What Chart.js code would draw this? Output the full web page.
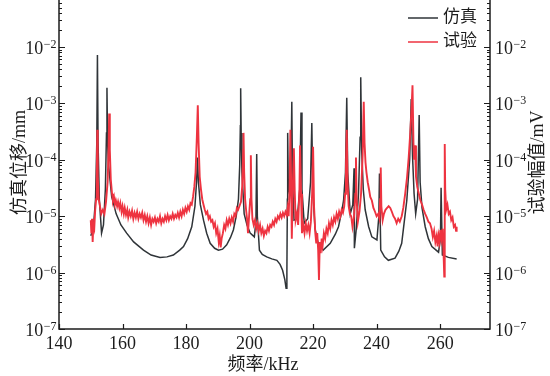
<!DOCTYPE html>
<html>
<head>
<meta charset="utf-8">
<script src="https://cdn.jsdelivr.net/npm/chart.js@4.4.1/dist/chart.umd.min.js"></script>
<style>
  html, body { margin: 0; padding: 0; background: #fff; }
  #wrap { width: 550px; height: 376px; }
</style>
</head>
<body>
<div id="wrap"><canvas id="grafico" width="550" height="376"></canvas></div>
<script>
// 仿真 (simulation) curve, frequency in kHz / displacement in mm
const simFreq = [
  150.0, 150.8, 151.5, 151.9, 152.1, 152.3, 152.7, 153.4, 154.0, 154.6,
  154.95, 155.1, 155.3, 155.6, 156.6, 158.0, 159.5, 161.3, 163.5, 166.6,
  169.0, 171.8, 174.0, 176.0, 178.0, 179.2, 180.5, 181.8, 182.8, 183.3,
  183.6, 183.9, 184.5, 185.5, 186.5, 187.6, 189.0, 190.2, 191.5, 192.8,
  194.0, 194.9, 195.8, 196.5, 196.9, 197.1, 197.2, 197.35, 197.6, 198.3,
  199.2, 200.2, 201.5, 202.0, 202.25, 202.45, 203.1, 204.0, 205.4, 207.0,
  208.6, 209.6, 210.4, 211.1, 211.5, 211.75, 211.9, 212.0, 212.2, 212.6,
  213.0, 213.3, 213.5, 214.0, 215.0, 215.8, 216.2, 216.5, 217.2, 218.3,
  219.2, 219.6, 219.9, 220.6, 221.5, 223.2, 225.4, 227.0, 228.0, 229.0,
  229.6, 230.2, 230.6, 230.9, 231.7, 232.5, 232.9, 233.0, 233.6, 234.3,
  234.8, 235.0, 235.3, 235.8, 236.4, 237.5, 238.5, 240.1, 240.7, 240.9,
  241.3, 242.5, 243.7, 245.8, 247.0, 247.9, 249.0, 249.5, 250.4, 250.9,
  251.3, 251.8, 252.3, 252.9, 253.4, 253.7, 254.3, 255.3, 256.3, 257.4,
  259.5, 260.1, 260.3, 260.7, 262.6, 265.2
];
const simAmp = [
  4.5e-6, 6e-6, 2e-5, 2e-4, 7.2e-3, 2e-4, 2e-5, 5e-6, 7e-6, 3e-5,
  3e-4, 1.9e-3, 2e-4, 8e-5, 2.2e-5, 1.1e-5, 7e-6, 5e-6, 3.5e-6, 2.5e-6,
  2.05e-6, 1.86e-6, 1.9e-6, 2.05e-6, 2.5e-6, 2.9e-6, 4e-6, 6.5e-6, 1.5e-5, 4e-5,
  1.1e-4, 4e-5, 1.6e-5, 8.5e-6, 5e-6, 3.3e-6, 2.7e-6, 2.5e-6, 2.6e-6, 3.1e-6,
  4.2e-6, 5.7e-6, 1e-5, 2e-5, 8e-5, 4e-4, 1.85e-3, 3e-4, 6e-5, 1.1e-5,
  7e-6, 5e-6, 4.3e-6, 8e-6, 1.26e-4, 1e-5, 2.5e-6, 2.1e-6, 1.9e-6, 1.75e-6,
  1.65e-6, 1.4e-6, 1.1e-6, 7.5e-7, 5.3e-7, 1e-6, 2e-5, 3e-4, 3.4e-5, 2.5e-5,
  6e-5, 1.07e-3, 5e-5, 8.5e-6, 9e-6, 3e-5, 6.9e-4, 3e-5, 7.5e-6, 9e-6,
  4e-5, 4.5e-4, 3e-5, 6e-6, 3.5e-6, 2.5e-6, 3.3e-6, 4.8e-6, 6.5e-6, 1.2e-5,
  1.9e-5, 6e-5, 1.26e-3, 6e-5, 1.1e-5, 1.6e-5, 7.1e-5, 2.7e-6, 6e-6, 2.5e-5,
  2.5e-4, 2.9e-3, 1.5e-4, 3e-5, 1.3e-5, 6.5e-6, 4.3e-6, 3.8e-6, 1e-5, 5.7e-5,
  2.5e-6, 1.9e-6, 1.65e-6, 1.8e-6, 2.4e-6, 3.3e-6, 1.1e-5, 1.9e-5, 1e-4, 1.2e-3,
  1.2e-4, 2.5e-5, 1.1e-5, 2e-5, 6.2e-4, 4e-5, 1.4e-5, 6.5e-6, 4e-6, 2.9e-6,
  2.3e-6, 4e-6, 3.2e-5, 2.05e-6, 1.86e-6, 1.75e-6
];

// 试验 (test) curve, frequency in kHz / amplitude in mV
const testFreq = [
  150.0, 150.2, 150.4, 150.6, 150.8, 151.1, 151.4, 151.7, 151.9, 152.05,
  152.2, 152.5, 152.9, 153.3, 153.8, 154.3, 154.8, 155.3, 155.6, 155.8,
  156.0, 156.3, 156.7, 157.0, 157.3, 157.6, 157.9, 158.3, 158.6, 159.0,
  159.3, 159.7, 160.0, 160.4, 160.7, 161.1, 161.5, 161.8, 162.2, 162.6,
  163.0, 163.4, 163.8, 164.2, 164.6, 165.0, 165.4, 165.8, 166.2, 166.6,
  167.0, 167.4, 167.8, 168.2, 168.6, 169.0, 169.4, 169.8, 170.2, 170.6,
  171.0, 171.4, 171.8, 172.2, 172.6, 173.0, 173.4, 173.8, 174.2, 174.6,
  175.0, 175.4, 175.8, 176.2, 176.6, 177.0, 177.4, 177.8, 178.2, 178.6,
  179.0, 179.4, 179.8, 180.2, 180.6, 181.0, 181.4, 181.8, 182.2, 182.6,
  183.0, 183.4, 183.7, 183.95, 184.3, 184.7, 185.1, 185.5, 185.9, 186.3,
  186.7, 187.1, 187.5, 187.9, 188.3, 188.7, 189.1, 189.5, 189.9, 190.3,
  190.6, 190.9, 191.2, 191.6, 192.0, 192.4, 192.8, 193.2, 193.6, 194.0,
  194.4, 194.8, 195.2, 195.6, 196.0, 196.4, 196.8, 197.3, 197.7, 198.0,
  198.1, 198.3, 198.6, 198.9, 199.2, 199.5, 199.8, 200.2, 200.4, 200.6,
  200.9, 201.3, 201.7, 202.1, 202.5, 202.9, 203.3, 203.7, 204.1, 204.5,
  204.9, 205.3, 205.7, 206.1, 206.5, 206.9, 207.3, 207.7, 208.1, 208.5,
  208.9, 209.3, 209.7, 210.1, 210.5, 210.9, 211.3, 211.7, 212.0, 212.3,
  212.6, 212.85, 213.1, 213.3, 213.6, 213.95, 214.2, 214.5, 214.9, 215.3,
  215.7, 215.9, 216.2, 216.5, 216.9, 217.3, 217.7, 218.1, 218.5, 218.9,
  219.3, 219.7, 220.0, 220.3, 220.7, 221.0, 221.3, 221.6, 221.85, 222.1,
  222.4, 222.7, 223.0, 223.4, 223.8, 224.2, 224.6, 225.0, 225.4, 225.8,
  226.2, 226.6, 227.0, 227.4, 227.8, 228.2, 228.6, 229.0, 229.4, 229.8,
  230.1, 230.35, 230.6, 230.85, 231.2, 231.6, 232.0, 232.4, 232.9, 233.3,
  233.5, 233.7, 234.1, 234.6, 235.1, 235.6, 235.95, 236.2, 236.5, 236.8,
  237.2, 237.6, 238.0, 238.5, 239.0, 239.5, 240.0, 240.5, 240.9, 241.1,
  241.3, 241.5, 241.9, 242.3, 242.8, 243.3, 243.8, 244.3, 244.8, 245.3,
  245.8, 246.3, 246.8, 247.3, 247.9, 248.4, 249.0, 249.6, 250.1, 250.6,
  251.0, 251.3, 251.6, 251.8, 252.1, 252.4, 252.8, 253.3, 253.8, 254.3,
  254.8, 255.3, 255.8, 256.3, 256.8, 257.3, 257.7, 258.1, 258.5, 258.9,
  259.2, 259.5, 259.8, 260.1, 260.4, 260.8, 261.1, 261.3, 261.45, 261.6,
  261.9, 262.3, 262.7, 263.1, 263.5, 263.9, 264.3, 264.7, 265.0, 265.2
];
const testAmp = [
  8.5e-6, 5e-6, 9e-6, 3.5e-6, 7e-6, 6e-6, 1.3e-5, 2e-5, 6e-5, 3.4e-4,
  5e-5, 2e-5, 1.5e-5, 1.1e-5, 1.3e-5, 1.1e-5, 1.8e-5, 4e-5, 1.5e-4, 6.6e-4,
  1.5e-4, 4.5e-5, 2.5e-5, 1.9e-5, 2.2e-5, 1.6e-5, 1.9e-5, 1.5e-5, 1.8e-5, 1.4e-5,
  1.7e-5, 1.2e-5, 1.5e-5, 1.1e-5, 1.4e-5, 1.05e-5, 1.3e-5, 9.5e-6, 1.2e-5, 1e-5,
  1.25e-5, 9e-6, 1.15e-5, 9.5e-6, 1.2e-5, 9e-6, 1.1e-5, 9.5e-6, 1.15e-5, 8.5e-6,
  1.05e-5, 8e-6, 1e-5, 7.5e-6, 9.5e-6, 7e-6, 9e-6, 8e-6, 9.5e-6, 7.5e-6,
  9e-6, 8e-6, 1e-5, 7.5e-6, 9e-6, 8e-6, 1e-5, 8.5e-6, 1.05e-5, 8.5e-6,
  1e-5, 9e-6, 1.1e-5, 9e-6, 1.05e-5, 9.5e-6, 1.15e-5, 9.5e-6, 1.2e-5, 1e-5,
  1.3e-5, 1.1e-5, 1.4e-5, 1.2e-5, 1.5e-5, 1.3e-5, 1.7e-5, 1.6e-5, 2.2e-5, 3.3e-5,
  6e-5, 2.5e-4, 9.3e-4, 2e-4, 5e-5, 3e-5, 2e-5, 1.6e-5, 1.3e-5, 1.1e-5,
  1.2e-5, 9e-6, 1e-5, 8e-6, 8.5e-6, 6.5e-6, 7.5e-6, 5e-6, 6e-6, 3.5e-6,
  4.5e-6, 2.8e-6, 4e-6, 5e-6, 7e-6, 6e-6, 8.5e-6, 7e-6, 9e-6, 7.5e-6,
  9.5e-6, 8e-6, 1.1e-5, 1e-5, 1.4e-5, 1.3e-5, 1.5e-5, 1.8e-5, 3.5e-5, 1.5e-4,
  3e-4, 6e-5, 2e-5, 1.3e-5, 9e-6, 5e-6, 9e-6, 2e-5, 1.2e-4, 2e-5,
  9e-6, 7e-6, 8.5e-6, 6e-6, 7.5e-6, 5.5e-6, 7e-6, 5e-6, 6e-6, 4.5e-6,
  5.5e-6, 5e-6, 6.5e-6, 5.5e-6, 7e-6, 6.5e-6, 8e-6, 7e-6, 9e-6, 8e-6,
  1e-5, 9e-6, 1.1e-5, 9.5e-6, 1.15e-5, 1e-5, 1.2e-5, 1.05e-5, 1.4e-5, 1e-5,
  3e-5, 3.4e-4, 3.4e-5, 4e-6, 3e-5, 1.6e-4, 3e-5, 8.5e-6, 1.1e-5, 7e-6,
  3e-5, 1.8e-4, 2.5e-5, 5e-6, 7e-6, 5e-6, 7.5e-6, 5.5e-6, 7e-6, 5e-6,
  8e-6, 2.5e-5, 1.7e-4, 1.5e-5, 5e-6, 3.3e-6, 5e-6, 2.5e-6, 7.4e-7, 3.5e-6,
  2.2e-6, 4e-6, 3e-6, 5e-6, 4e-6, 6e-6, 5e-6, 7.5e-6, 6e-6, 8.5e-6,
  7e-6, 9.5e-6, 8e-6, 1.1e-5, 9e-6, 1.2e-5, 1e-5, 1.3e-5, 1.15e-5, 1.5e-5,
  2.5e-5, 8e-5, 3.4e-4, 4e-5, 1.5e-5, 1.1e-5, 1e-5, 6.5e-6, 1e-5, 2.5e-5,
  1.1e-4, 2e-5, 8e-6, 1.2e-5, 2.5e-5, 1.2e-4, 1.07e-3, 2e-4, 9e-5, 6e-5,
  4e-5, 3e-5, 2.2e-5, 1.9e-5, 1.4e-5, 1.2e-5, 1e-5, 1.1e-5, 9e-6, 2e-5,
  7.3e-5, 1.5e-5, 8.5e-6, 1.1e-5, 1.3e-5, 1.4e-5, 1.5e-5, 1.4e-5, 1.2e-5, 1e-5,
  9e-6, 7.5e-6, 9e-6, 8e-6, 1e-5, 1.4e-5, 2.5e-5, 5e-5, 1.1e-4, 3e-4,
  8e-4, 2.1e-3, 2e-4, 1e-4, 1.8e-4, 5e-5, 3.3e-5, 2.5e-5, 1.9e-5, 1.6e-5,
  1.3e-5, 1.1e-5, 9.5e-6, 8e-6, 7.5e-6, 6e-6, 4.3e-6, 5.5e-6, 3.5e-6, 4.5e-6,
  2.9e-6, 4.5e-6, 3.5e-6, 5.7e-6, 4e-6, 6e-6, 2e-6, 8.5e-7, 1.9e-4, 3e-5,
  1.3e-5, 1.6e-5, 1.1e-5, 1.2e-5, 8.5e-6, 9.5e-6, 6.5e-6, 7e-6, 5.5e-6, 6.5e-6
];

const xTicks = [140, 160, 180, 200, 220, 240, 260];
const yDecades = [-7, -6, -5, -4, -3, -2];
const seriesNames = ['仿真', '试验'];
const axisTitles = { x: '频率/kHz', left: '仿真位移/mm', right: '试验幅值/mV' };

const X_MIN = 140, X_MAX = 275.7;
const Y_MIN = 1e-7, Y_MAX = Math.pow(10, -1.167);

const INK = '#1c1c1c';
const COR_SIM = '#2f3438';
const COR_TESTE = '#ee3340';
const FONTE_NUM = '"Liberation Serif", "DejaVu Serif", serif';
const FONTE_CJK = '"Liberation Serif", "Noto Sans CJK SC", serif';

const pontos = (xs, ys) => xs.map((x, i) => ({ x, y: ys[i] }));

// frame, inward ticks, y labels with superscripts, titles and legend
const moldura = {
  id: 'moldura',
  afterDatasetsDraw(chart) {
    const { ctx, chartArea: a, scales: { x, y } } = chart;
    ctx.save();
    ctx.strokeStyle = INK;
    ctx.lineWidth = 1.5;
    ctx.beginPath();
    ctx.moveTo(a.left, a.top);
    ctx.lineTo(a.left, a.bottom);
    ctx.lineTo(a.right, a.bottom);
    ctx.lineTo(a.right, a.top);
    ctx.stroke();

    ctx.lineWidth = 1.2;
    ctx.beginPath();
    xTicks.forEach(v => {
      const px = Math.round(x.getPixelForValue(v)) + 0.5;
      ctx.moveTo(px, a.bottom);
      ctx.lineTo(px, a.bottom - 5);
    });
    yDecades.forEach(d => {
      for (let m = 1; m <= 9; m++) {
        const v = m * Math.pow(10, d);
        if (v > Y_MAX) break;
        const py = Math.round(y.getPixelForValue(v)) + 0.5;
        const len = m === 1 ? 6 : 3;
        ctx.moveTo(a.left, py); ctx.lineTo(a.left + len, py);
        ctx.moveTo(a.right, py); ctx.lineTo(a.right - len, py);
      }
    });
    ctx.stroke();
    ctx.restore();
  },
  afterDraw(chart) {
    const { ctx, chartArea: a, scales: { y } } = chart;
    ctx.save();
    ctx.fillStyle = INK;
    ctx.textBaseline = 'alphabetic';

    // y tick labels 10^n on both sides
    yDecades.forEach(d => {
      const py = y.getPixelForValue(Math.pow(10, d));
      const exp = '\u2212' + Math.abs(d);
      ctx.font = `12px ${FONTE_NUM}`;
      const we = ctx.measureText(exp).width;
      ctx.font = `18px ${FONTE_NUM}`;
      const wb = ctx.measureText('10').width;
      // left
      ctx.textAlign = 'left';
      const xl = a.left - 3 - we - wb;
      ctx.fillText('10', xl, py + 7);
      ctx.font = `12px ${FONTE_NUM}`;
      ctx.fillText(exp, xl + wb + 0.5, py + 1);
      // right
      ctx.font = `18px ${FONTE_NUM}`;
      const xr = a.right + 5;
      ctx.fillText('10', xr, py + 7);
      ctx.font = `12px ${FONTE_NUM}`;
      ctx.fillText(exp, xr + wb + 0.5, py + 1);
    });

    // axis titles
    const meioY = (a.top + a.bottom) / 2 - 2;
    ctx.font = `18px ${FONTE_CJK}`;
    ctx.textAlign = 'center';
    ctx.textBaseline = 'middle';
    ctx.fillText(axisTitles.x, 263, 365);
    [[20, axisTitles.left], [538, axisTitles.right]].forEach(([cx, txt]) => {
      ctx.save();
      ctx.translate(cx, meioY);
      ctx.rotate(-Math.PI / 2);
      ctx.fillText(txt, 0, 0);
      ctx.restore();
    });

    // legend
    ctx.font = `17px ${FONTE_CJK}`;
    ctx.textAlign = 'left';
    [[COR_SIM, seriesNames[0], 18], [COR_TESTE, seriesNames[1], 42]].forEach(([cor, nome, ly]) => {
      ctx.strokeStyle = cor;
      ctx.lineWidth = 1.5;
      ctx.beginPath();
      ctx.moveTo(408, ly);
      ctx.lineTo(438, ly);
      ctx.stroke();
      ctx.fillStyle = INK;
      ctx.fillText(nome, 443, ly);
    });
    ctx.restore();
  }
};

new Chart(document.getElementById('grafico'), {
  type: 'line',
  data: {
    datasets: [
      {
        label: seriesNames[0],
        data: pontos(simFreq, simAmp),
        borderColor: COR_SIM,
        borderWidth: 1.5,
        pointRadius: 0,
        tension: 0,
        order: 2,
        yAxisID: 'y'
      },
      {
        label: seriesNames[1],
        data: pontos(testFreq, testAmp),
        borderColor: COR_TESTE,
        borderWidth: 1.9,
        pointRadius: 0,
        tension: 0,
        order: 1,
        yAxisID: 'y'
      }
    ]
  },
  options: {
    responsive: false,
    animation: false,
    devicePixelRatio: 1,
    layout: { padding: 0 },
    plugins: { legend: { display: false }, tooltip: { enabled: false } },
    scales: {
      x: {
        type: 'linear',
        position: 'bottom',
        min: X_MIN,
        max: X_MAX,
        afterBuildTicks: s => { s.ticks = xTicks.map(v => ({ value: v })); },
        afterFit: s => { s.height = 47; },
        grid: { display: false, drawTicks: false },
        border: { display: false },
        ticks: {
          color: INK,
          padding: 4,
          maxRotation: 0,
          font: { family: FONTE_NUM, size: 18 },
          callback: v => String(v)
        }
      },
      y: {
        type: 'logarithmic',
        position: 'left',
        min: Y_MIN,
        max: Y_MAX,
        afterBuildTicks: s => { s.ticks = yDecades.map(d => ({ value: Math.pow(10, d) })); },
        afterFit: s => { s.width = 59; },
        grid: { display: false, drawTicks: false },
        border: { display: false },
        ticks: { display: false }
      },
      y2: {
        type: 'logarithmic',
        position: 'right',
        display: true,
        min: Y_MIN,
        max: Y_MAX,
        afterBuildTicks: s => { s.ticks = yDecades.map(d => ({ value: Math.pow(10, d) })); },
        afterFit: s => { s.width = 60; },
        grid: { display: false, drawTicks: false },
        border: { display: false },
        ticks: { display: false }
      }
    }
  },
  plugins: [moldura]
});
</script>
</body>
</html>
